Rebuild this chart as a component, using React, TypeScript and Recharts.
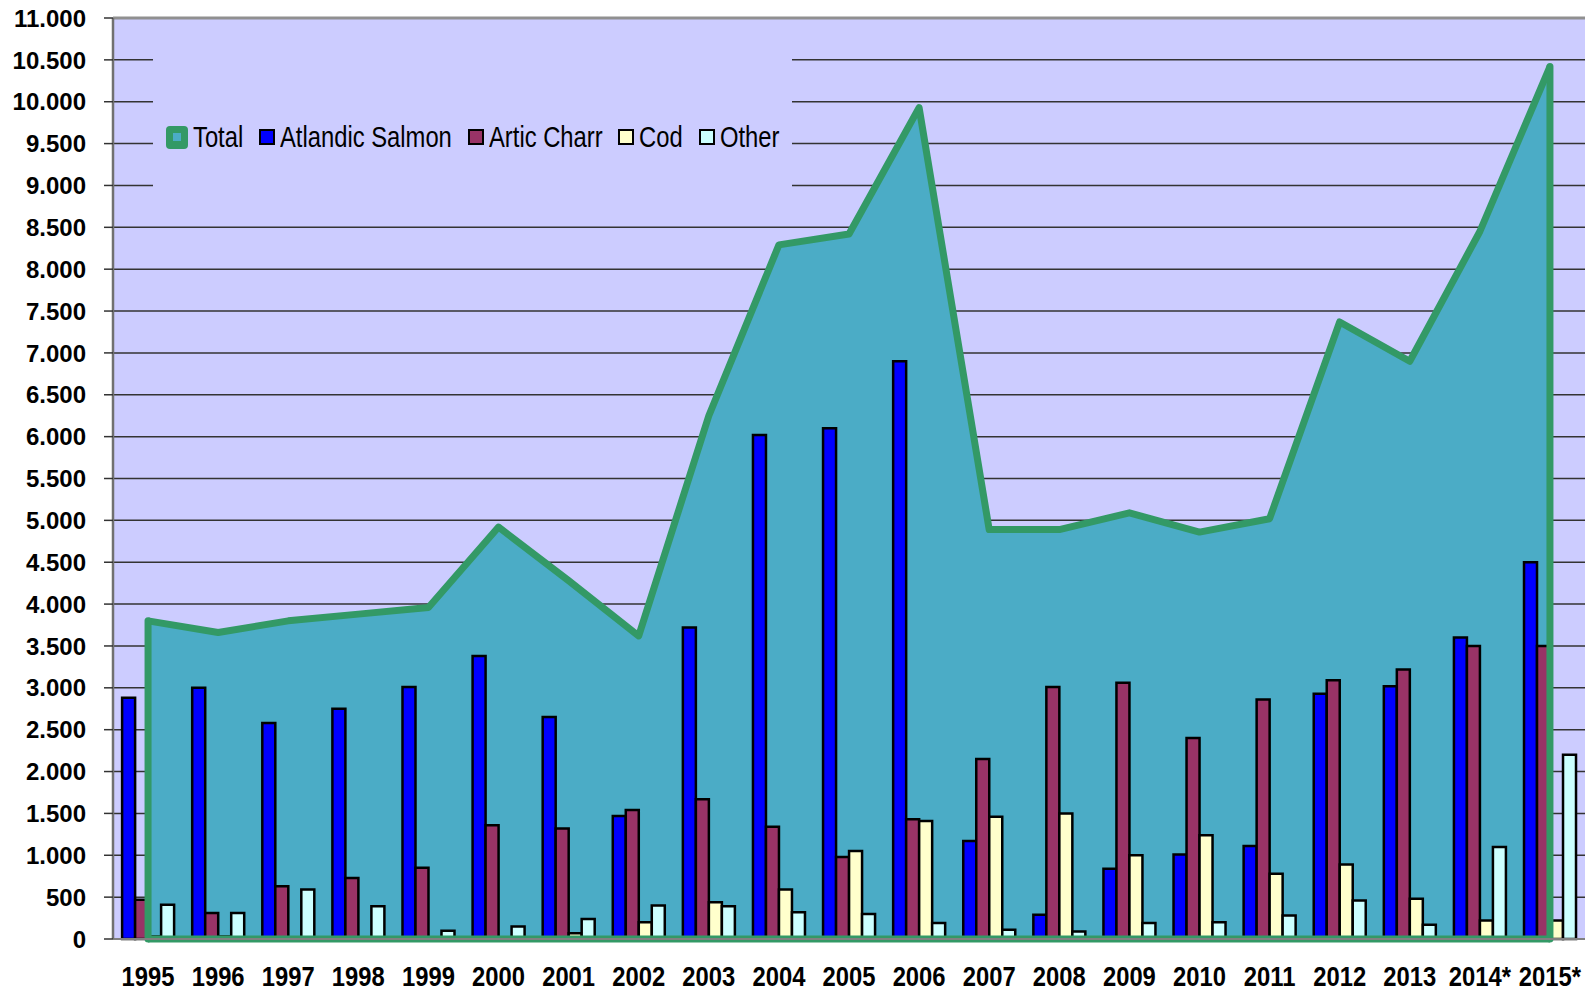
import React from 'react';
import {
  ComposedChart, Area, Bar, XAxis, YAxis, CartesianGrid, ReferenceLine, Legend,
} from 'recharts';

const years = ['1995','1996','1997','1998','1999','2000','2001','2002','2003','2004','2005','2006','2007','2008','2009','2010','2011','2012','2013','2014*','2015*'];
const total = [3800,3660,3800,3880,3960,4920,4280,3620,6250,8290,8420,9930,4890,4890,5090,4860,5020,7370,6900,8450,10420];
const atlanticSalmon = [2880,3000,2580,2750,3010,3380,2650,1470,3720,6020,6100,6900,1170,290,840,1010,1110,2930,3020,3600,4500];
const articCharr = [470,310,630,730,850,1360,1320,1540,1670,1340,980,1430,2150,3010,3060,2400,2860,3090,3220,3500,3500];
const cod = [30,30,8,0,0,12,70,200,440,590,1050,1410,1460,1500,1000,1240,780,890,480,220,220];
const other = [410,310,590,390,100,150,240,400,390,320,300,190,110,90,190,200,280,460,170,1100,2200];
const yTicks = [0,500,1000,1500,2000,2500,3000,3500,4000,4500,5000,5500,6000,6500,7000,7500,8000,8500,9000,9500,10000,10500,11000];

const data = years.map((y, i) => ({
  year: y,
  total: total[i],
  atlantic: atlanticSalmon[i],
  charr: articCharr[i],
  cod: cod[i],
  other: other[i],
}));

const GREEN = '#339966';
const AREA = '#4BACC6';
const BG = '#CCCCFF';
const SANS = "'Liberation Sans', Arial, sans-serif";
const NARROW_SCALE = 0.82;

const fmt = (v: number) => String(v).replace(/\B(?=(\d{3})+(?!\d))/g, '.');

const YTick = (props: any) => {
  const { x, y, payload } = props;
  return (
    <text x={x} y={y} dy="0.36em" textAnchor="end" fontFamily={SANS} fontWeight="bold" fontSize={24} fill="#000">
      {fmt(payload.value)}
    </text>
  );
};

const XTick = (props: any) => {
  const { x, y, payload } = props;
  return (
    <text transform={`translate(${x},${y}) scale(0.85,1)`} x={0} y={0} dy="0.71em" textAnchor="middle" fontFamily={SANS} fontWeight="bold" fontSize={28} fill="#000">
      {payload.value}
    </text>
  );
};

const legendItems = [
  { name: 'Total', kind: 'total' },
  { name: 'Atlandic Salmon', color: '#0000FF' },
  { name: 'Artic Charr', color: '#993366' },
  { name: 'Cod', color: '#FFFFCC' },
  { name: 'Other', color: '#CCFFFF' },
];

let measureCtx: CanvasRenderingContext2D | null = null;
const measure = (text: string, font: string) => {
  if (!measureCtx) {
    const c = document.createElement('canvas');
    measureCtx = c.getContext('2d');
  }
  if (!measureCtx) return text.length * 14;
  measureCtx.font = font;
  return measureCtx.measureText(text).width;
};

const LEGEND_FONT = 29;

const LegendContent = () => (
  <div style={{ width: '100%', height: '100%', background: BG, display: 'flex', alignItems: 'center', justifyContent: 'center' }}>
    {legendItems.map((it, i) => {
      const w = measure(it.name, `${LEGEND_FONT}px 'Liberation Sans'`) * NARROW_SCALE;
      return (
        <div key={it.name} style={{ display: 'flex', alignItems: 'center', marginLeft: i === 0 ? 0 : 16 }}>
          {it.kind === 'total' ? (
            <div style={{ width: 22, height: 23, borderRadius: 4, background: GREEN, display: 'flex', alignItems: 'center', justifyContent: 'center' }}>
              <div style={{ width: 8, height: 8, background: AREA }} />
            </div>
          ) : (
            <div style={{ width: 12, height: 12, background: it.color, border: '2px solid #000' }} />
          )}
          <span style={{ display: 'inline-block', width: w, marginLeft: 5, height: LEGEND_FONT, overflow: 'visible' }}>
            <span style={{ display: 'inline-block', whiteSpace: 'nowrap', transform: `scaleX(${NARROW_SCALE})`, transformOrigin: 'left center', fontFamily: SANS, fontSize: LEGEND_FONT, color: '#000', lineHeight: `${LEGEND_FONT}px` }}>
              {it.name}
            </span>
          </span>
        </div>
      );
    })}
  </div>
);

export default function App() {
  const first = years[0];
  const last = years[years.length - 1];
  return (
    <div style={{ position: 'absolute', left: 0, top: 0, width: 1592, height: 991, background: '#fff' }}>
      <ComposedChart
        width={1592}
        height={991}
        data={data}
        margin={{ top: 18, right: 7, bottom: 0, left: 0 }}
        barCategoryGap="13%"
        barGap={0}
      >
        <CartesianGrid vertical={false} horizontal fill={BG} stroke="#333" strokeWidth={1.5} />
        <XAxis
          dataKey="year"
          height={52}
          tickLine={false}
          tickSize={0}
          tickMargin={27}
          axisLine={{ stroke: '#808080', strokeWidth: 2 }}
          tick={<XTick />}
          interval={0}
        />
        <YAxis
          width={113}
          domain={[0, 11000]}
          ticks={yTicks}
          interval={0}
          tickSize={9}
          tickMargin={18}
          tickLine={{ stroke: '#333', strokeWidth: 1.5 }}
          axisLine={{ stroke: '#707070', strokeWidth: 2.5 }}
          tick={<YTick />}
        />
        <YAxis yAxisId="r" orientation="right" width={0} tick={false} tickLine={false} axisLine={{ stroke: '#909090', strokeWidth: 3 }} />
        <ReferenceLine y={11000} stroke="#909090" strokeWidth={3} />
        <Area
          type="linear"
          dataKey="total"
          name="Total"
          fill={AREA}
          fillOpacity={1}
          stroke={GREEN}
          strokeWidth={7}
          strokeLinejoin="round"
          isAnimationActive={false}
        />
        <ReferenceLine segment={[{ x: first, y: 0 }, { x: first, y: total[0] }]} stroke={GREEN} strokeWidth={7} strokeLinecap="round" />
        <ReferenceLine segment={[{ x: last, y: 0 }, { x: last, y: total[total.length - 1] }]} stroke={GREEN} strokeWidth={7} strokeLinecap="round" />
        <ReferenceLine segment={[{ x: first, y: 0 }, { x: last, y: 0 }]} stroke={GREEN} strokeWidth={7} />
        <Bar dataKey="atlantic" name="Atlandic Salmon" fill="#0000FF" stroke="#000" strokeWidth={2.5} isAnimationActive={false} />
        <Bar dataKey="charr" name="Artic Charr" fill="#993366" stroke="#000" strokeWidth={2.5} isAnimationActive={false} />
        <Bar dataKey="cod" name="Cod" fill="#FFFFCC" stroke="#000" strokeWidth={2.5} isAnimationActive={false} />
        <Bar dataKey="other" name="Other" fill="#CCFFFF" stroke="#000" strokeWidth={2.5} isAnimationActive={false} />
        <Legend
          layout="horizontal"
          verticalAlign="middle"
          align="center"
          content={<LegendContent />}
          wrapperStyle={{ left: 153, top: 52, width: 639, height: 170 }}
        />
      </ComposedChart>
    </div>
  );
}
